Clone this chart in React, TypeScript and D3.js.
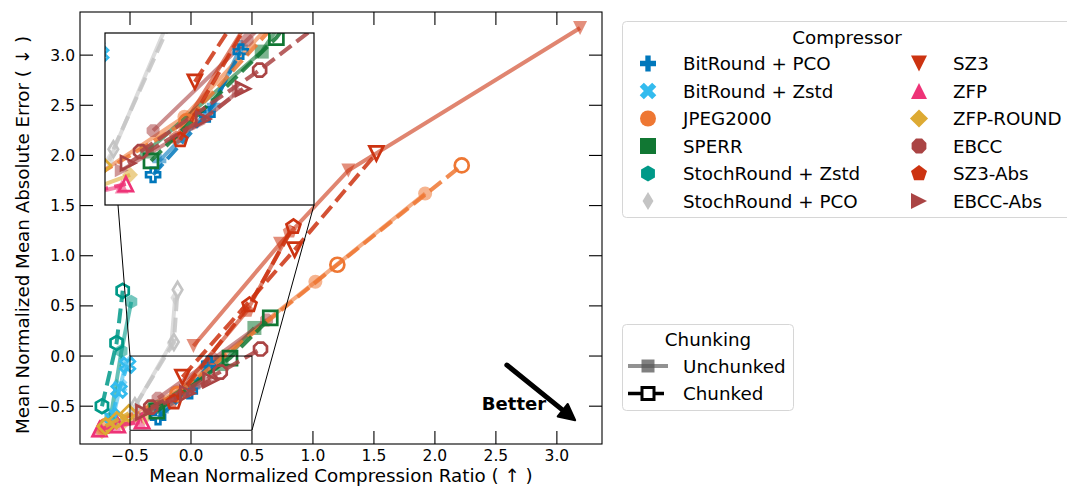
import { useEffect, useRef } from 'react'
import * as d3 from 'd3'

type Pt = [number, number]

// Compressor names, colours and matplotlib-style marker codes
const compressors = [
  'BitRound + PCO', 'BitRound + Zstd', 'JPEG2000', 'SPERR', 'StochRound + Zstd', 'StochRound + PCO',
  'SZ3', 'ZFP', 'ZFP-ROUND', 'EBCC', 'SZ3-Abs', 'EBCC-Abs',
]
const colors = [
  '#0077bb', '#33bbee', '#ee7733', '#117733', '#009988', '#c4c4c4',
  '#cc3311', '#ee3377', '#ddaa33', '#aa4444', '#cc3311', '#aa4444',
]
const markers = ['P', 'X', 'o', 's', 'h', 'd', 'v', '^', 'D', '8', 'p', '>']

// [mean normalized compression ratio, mean normalized MAE]
const bitroundPcoU: Pt[] = [[-0.24, -0.55], [0.02, -0.31], [0.15, -0.06]]
const bitroundPcoC: Pt[] = [[-0.27, -0.61], [-0.01, -0.35], [0.15, -0.08]]
const bitroundZstdU: Pt[] = [[-0.64, -0.62], [-0.58, -0.30], [-0.53, -0.06]]
const bitroundZstdC: Pt[] = [[-0.65, -0.60], [-0.59, -0.34], [-0.52, -0.09]]
const jpegU: Pt[] = [[-0.72, -0.72], [-0.12, -0.36], [1.02, 0.74], [1.92, 1.62]]
const jpegC: Pt[] = [[-0.70, -0.70], [-0.11, -0.38], [1.20, 0.91], [2.22, 1.90]]
const sperrU: Pt[] = [[-0.30, -0.51], [0.25, -0.08], [0.52, 0.28]]
const sperrC: Pt[] = [[-0.28, -0.55], [0.32, -0.02], [0.65, 0.38]]
const stochZstdU: Pt[] = [[-0.66, -0.62], [-0.57, 0.05], [-0.49, 0.54]]
const stochZstdC: Pt[] = [[-0.73, -0.50], [-0.61, 0.13], [-0.56, 0.65]]
const stochPcoU: Pt[] = [[-0.48, -0.55], [-0.16, 0.13], [-0.13, 0.58]]
const stochPcoC: Pt[] = [[-0.46, -0.50], [-0.14, 0.14], [-0.11, 0.66]]
const sz3U: Pt[] = [[0.02, 0.10], [0.73, 1.12], [1.29, 1.85], [3.19, 3.27]]
const sz3C: Pt[] = [[-0.07, -0.21], [0.85, 1.06], [1.52, 2.02]]
const zfpU: Pt[] = [[-0.76, -0.74], [-0.62, -0.70], [-0.42, -0.66]]
const zfpC: Pt[] = [[-0.75, -0.73], [-0.60, -0.69], [-0.40, -0.65]]
const zfpRoundU: Pt[] = [[-0.73, -0.75], [-0.56, -0.67], [-0.38, -0.61]]
const zfpRoundC: Pt[] = [[-0.70, -0.70], [-0.61, -0.64], [-0.51, -0.57]]
const ebccU: Pt[] = [[-0.27, -0.42], [0.18, -0.03], [0.62, 0.36]]
const ebccC: Pt[] = [[-0.33, -0.51], [0.24, -0.16], [0.57, 0.07]]
const sz3AbsU: Pt[] = [[-0.16, -0.45], [0.46, 0.45], [0.81, 1.24]]
const sz3AbsC: Pt[] = [[-0.14, -0.46], [0.48, 0.51], [0.84, 1.29]]
const ebccAbsU: Pt[] = [[-0.42, -0.59], [-0.05, -0.39], [0.14, -0.25]]
const ebccAbsC: Pt[] = [[-0.39, -0.56], [-0.03, -0.37], [0.16, -0.24]]

const unchunked = [bitroundPcoU, bitroundZstdU, jpegU, sperrU, stochZstdU, stochPcoU, sz3U, zfpU, zfpRoundU, ebccU, sz3AbsU, ebccAbsU]
const chunked = [bitroundPcoC, bitroundZstdC, jpegC, sperrC, stochZstdC, stochPcoC, sz3C, zfpC, zfpRoundC, ebccC, sz3AbsC, ebccAbsC]

const xTicks = [-0.5, 0, 0.5, 1, 1.5, 2, 2.5, 3]
const yTicks = [-0.5, 0, 0.5, 1, 1.5, 2, 2.5, 3]
const xDomain: Pt = [-0.91, 3.37]
const yDomain: Pt = [-0.877, 3.43]
const insetXDomain: Pt = [-0.5, 0.5]
const insetYDomain: Pt = [-0.74, 0]
const chunkingLabels = ['Unchunked', 'Chunked']
const betterArrow: Pt[] = [[2.59, -0.09], [3.15, -0.64]]
const betterText: Pt = [2.385, -0.54]

const FONT = 'DejaVu Sans, sans-serif'
const fmt = (v: number) => d3.format('.1f')(v).replace('-', '\u2212')

function markerPath(m: string, ms: number): string {
  const h = ms / 2
  const poly = (pts: number[][]) => 'M' + pts.map(p => `${p[0].toFixed(2)},${p[1].toFixed(2)}`).join('L') + 'Z'
  const ngon = (n: number, r: number, rot = 0) =>
    d3.range(n).map(i => {
      const a = rot + (i * 2 * Math.PI) / n
      return [r * Math.sin(a), -r * Math.cos(a)]
    })
  const a = h / 3
  const plus = [[-a, -h], [a, -h], [a, -a], [h, -a], [h, a], [a, a], [a, h], [-a, h], [-a, a], [-h, a], [-h, -a], [-a, -a]]
  const d = h * Math.SQRT2
  switch (m) {
    case 'o': return `M${h},0A${h},${h} 0 1,1 ${-h},0A${h},${h} 0 1,1 ${h},0Z`
    case 's': return poly([[-h, -h], [h, -h], [h, h], [-h, h]])
    case 'D': return poly([[0, -d * 0.8], [d * 0.8, 0], [0, d * 0.8], [-d * 0.8, 0]])
    case 'd': return poly([[0, -d * 0.8], [0.6 * d * 0.8, 0], [0, d * 0.8], [-0.6 * d * 0.8, 0]])
    case 'v': return poly([[-h, -h], [h, -h], [0, h]])
    case '^': return poly([[0, -h], [h, h], [-h, h]])
    case '>': return poly([[-h, -h], [h, 0], [-h, h]])
    case 'h': return poly(ngon(6, h))
    case 'p': return poly(ngon(5, h * 1.05))
    case '8': return poly(ngon(8, h, Math.PI / 8))
    case 'P': return poly(plus)
    case 'X': {
      const c = Math.SQRT1_2
      return poly(plus.map(p => [(p[0] - p[1]) * c * 1.1, (p[0] + p[1]) * c * 1.1]))
    }
    default: return ''
  }
}

export default function App() {
  const svgRef = useRef<SVGSVGElement>(null)
  const width = 1067
  const height = 488

  useEffect(() => {
    if (!svgRef.current) return
    const svg = d3.select(svgRef.current)
    svg.selectAll('*').remove()

    const ax = { left: 80, right: 602, top: 12, bottom: 444 }
    const x = d3.scaleLinear().domain(xDomain).range([ax.left, ax.right])
    const y = d3.scaleLinear().domain(yDomain).range([ax.bottom, ax.top])

    const inset = { left: 105, right: 314, top: 33, bottom: 205 }
    const ix = d3.scaleLinear().domain(insetXDomain).range([inset.left, inset.right])
    const iy = d3.scaleLinear().domain(insetYDomain).range([inset.bottom, inset.top])

    const defs = svg.append('defs')
    defs.append('clipPath').attr('id', 'main-clip').append('rect')
      .attr('x', ax.left).attr('y', ax.top).attr('width', ax.right - ax.left).attr('height', ax.bottom - ax.top)
    defs.append('clipPath').attr('id', 'inset-clip').append('rect')
      .attr('x', inset.left).attr('y', inset.top).attr('width', inset.right - inset.left).attr('height', inset.bottom - inset.top)

    svg.append('rect').attr('width', width).attr('height', height).attr('fill', 'white')

    // Draws every compressor, unchunked first, then chunked on top
    const drawSeries = (g: d3.Selection<SVGGElement, unknown, null, undefined>, xs: d3.ScaleLinear<number, number>, ys: d3.ScaleLinear<number, number>) => {
      const line = d3.line<Pt>().x(d => xs(d[0])).y(d => ys(d[1]))
      compressors.forEach((_, i) => {
        g.append('path')
          .datum(unchunked[i])
          .attr('d', line)
          .attr('fill', 'none')
          .attr('stroke', colors[i])
          .attr('stroke-width', 4)
          .attr('stroke-opacity', 0.6)
        g.append('g').selectAll('path')
          .data(unchunked[i])
          .join('path')
          .attr('transform', d => `translate(${xs(d[0])},${ys(d[1])})`)
          .attr('d', markerPath(markers[i], 14))
          .attr('fill', colors[i])
          .attr('fill-opacity', 0.55)
      })
      compressors.forEach((_, i) => {
        g.append('path')
          .datum(chunked[i])
          .attr('d', line)
          .attr('fill', 'none')
          .attr('stroke', colors[i])
          .attr('stroke-width', 4)
          .attr('stroke-opacity', 0.85)
          .attr('stroke-dasharray', '14.8,6.4')
        g.append('g').selectAll('path')
          .data(chunked[i])
          .join('path')
          .attr('transform', d => `translate(${xs(d[0])},${ys(d[1])})`)
          .attr('d', markerPath(markers[i], 14))
          .attr('fill', 'none')
          .attr('stroke', colors[i])
          .attr('stroke-width', 2.7)
          .attr('stroke-linejoin', 'miter')
      })
    }

    // Main axes content
    const main = svg.append('g').attr('clip-path', 'url(#main-clip)')
    drawSeries(main, x, y)

    // Zoom rectangle and connectors
    const box = { x0: x(insetXDomain[0]), x1: x(insetXDomain[1]), y0: y(insetYDomain[1]), y1: y(insetYDomain[0]) }
    svg.append('rect')
      .attr('x', box.x0).attr('y', box.y0)
      .attr('width', box.x1 - box.x0).attr('height', box.y1 - box.y0)
      .attr('fill', 'none').attr('stroke', '#000').attr('stroke-width', 1)
    svg.append('line')
      .attr('x1', inset.left + 13).attr('y1', inset.bottom)
      .attr('x2', box.x0).attr('y2', box.y0)
      .attr('stroke', '#000').attr('stroke-width', 1)
    svg.append('line')
      .attr('x1', inset.right).attr('y1', inset.bottom)
      .attr('x2', box.x1).attr('y2', box.y1)
      .attr('stroke', '#000').attr('stroke-width', 1)

    // Inset axes
    svg.append('rect')
      .attr('x', inset.left).attr('y', inset.top)
      .attr('width', inset.right - inset.left).attr('height', inset.bottom - inset.top)
      .attr('fill', 'white')
    const ins = svg.append('g').attr('clip-path', 'url(#inset-clip)')
    drawSeries(ins, ix, iy)
    svg.append('rect')
      .attr('x', inset.left).attr('y', inset.top)
      .attr('width', inset.right - inset.left).attr('height', inset.bottom - inset.top)
      .attr('fill', 'none').attr('stroke', '#000').attr('stroke-width', 1.2)

    // Better annotation
    const [a0, a1] = betterArrow.map(p => [x(p[0]), y(p[1])])
    const ang = Math.atan2(a1[1] - a0[1], a1[0] - a0[0])
    const headLen = 16
    const headW = 8
    const base = [a1[0] - headLen * Math.cos(ang), a1[1] - headLen * Math.sin(ang)]
    svg.append('line')
      .attr('x1', a0[0]).attr('y1', a0[1])
      .attr('x2', base[0]).attr('y2', base[1])
      .attr('stroke', '#000').attr('stroke-width', 5).attr('stroke-linecap', 'round')
    svg.append('path')
      .attr('d', `M${a1[0]},${a1[1]}L${base[0] - headW * Math.sin(ang)},${base[1] + headW * Math.cos(ang)}L${base[0] + headW * Math.sin(ang)},${base[1] - headW * Math.cos(ang)}Z`)
      .attr('fill', '#000').attr('stroke', '#000').attr('stroke-width', 2).attr('stroke-linejoin', 'round')
    svg.append('text')
      .attr('x', x(betterText[0])).attr('y', y(betterText[1]))
      .attr('font-family', FONT).attr('font-size', 18).attr('font-weight', 'bold')
      .text('Better')

    // Spines and ticks (inward on all sides)
    svg.append('rect')
      .attr('x', ax.left).attr('y', ax.top)
      .attr('width', ax.right - ax.left).attr('height', ax.bottom - ax.top)
      .attr('fill', 'none').attr('stroke', '#000').attr('stroke-width', 1.1)
    const tickLen = 13
    const ticks = svg.append('g').attr('stroke', '#000').attr('stroke-width', 1.1)
    xTicks.forEach(t => {
      ticks.append('line').attr('x1', x(t)).attr('x2', x(t)).attr('y1', ax.bottom).attr('y2', ax.bottom - tickLen)
      ticks.append('line').attr('x1', x(t)).attr('x2', x(t)).attr('y1', ax.top).attr('y2', ax.top + tickLen)
    })
    yTicks.forEach(t => {
      ticks.append('line').attr('y1', y(t)).attr('y2', y(t)).attr('x1', ax.left).attr('x2', ax.left + tickLen)
      ticks.append('line').attr('y1', y(t)).attr('y2', y(t)).attr('x1', ax.right).attr('x2', ax.right - tickLen)
    })
    const labels = svg.append('g').attr('font-family', FONT).attr('font-size', 15.5).attr('fill', '#000')
    xTicks.forEach(t => {
      labels.append('text').attr('x', x(t)).attr('y', 461).attr('text-anchor', 'middle').text(fmt(t))
    })
    yTicks.forEach(t => {
      labels.append('text').attr('x', 75).attr('y', y(t) + 5.5).attr('text-anchor', 'end').text(fmt(t))
    })

    svg.append('text')
      .attr('x', (ax.left + ax.right) / 2).attr('y', 482)
      .attr('text-anchor', 'middle')
      .attr('font-family', FONT).attr('font-size', 18.3)
      .text('Mean Normalized Compression Ratio ( \u2191 )')
    svg.append('text')
      .attr('transform', `translate(29,235) rotate(-90)`)
      .attr('text-anchor', 'middle')
      .attr('font-family', FONT).attr('font-size', 18.3)
      .text('Mean Normalized Mean Absolute Error ( \u2193 )')

    // Compressor legend
    const leg = svg.append('g').attr('font-family', FONT).attr('font-size', 18.3)
    leg.append('rect')
      .attr('x', 622.5).attr('y', 21.5).attr('width', 450).attr('height', 196).attr('rx', 4)
      .attr('fill', 'white').attr('stroke', '#d6d6d6')
    leg.append('text').attr('x', 847).attr('y', 43.5).attr('text-anchor', 'middle').text('Compressor')
    compressors.forEach((name, i) => {
      const col = Math.floor(i / 6)
      const row = i % 6
      const cy = 63.5 + row * 27.5
      const mx = col === 0 ? 648 : 919
      const tx = col === 0 ? 683 : 953
      leg.append('path')
        .attr('transform', `translate(${mx},${cy})`)
        .attr('d', markerPath(markers[i], 16))
        .attr('fill', colors[i])
      leg.append('text').attr('x', tx).attr('y', cy + 6.5).text(name)
    })

    // Chunking legend
    const leg2 = svg.append('g').attr('font-family', FONT).attr('font-size', 18.3)
    leg2.append('rect')
      .attr('x', 622.5).attr('y', 324.5).attr('width', 171).attr('height', 86).attr('rx', 4)
      .attr('fill', 'white').attr('stroke', '#d6d6d6')
    leg2.append('text').attr('x', 708).attr('y', 345.5).attr('text-anchor', 'middle').text('Chunking')
    chunkingLabels.forEach((name, i) => {
      const cy = 366 + i * 27.5
      if (i === 0) {
        leg2.append('line').attr('x1', 628).attr('x2', 668).attr('y1', cy).attr('y2', cy)
          .attr('stroke', '#777').attr('stroke-width', 4).attr('stroke-opacity', 0.8)
        leg2.append('path').attr('transform', `translate(648,${cy})`).attr('d', markerPath('s', 13))
          .attr('fill', '#555').attr('fill-opacity', 0.75)
      } else {
        leg2.append('line').attr('x1', 628).attr('x2', 668).attr('y1', cy).attr('y2', cy)
          .attr('stroke', '#000').attr('stroke-width', 3.5).attr('stroke-dasharray', '14.8,6.4')
        leg2.append('path').attr('transform', `translate(648,${cy})`).attr('d', markerPath('s', 12))
          .attr('fill', 'white').attr('stroke', '#000').attr('stroke-width', 3)
      }
      leg2.append('text').attr('x', 683).attr('y', cy + 6.5).text(name)
    })
  }, [])

  return (
    <div style={{ position: 'absolute', left: 0, top: 0 }}>
      <svg ref={svgRef} width={width} height={height} />
    </div>
  )
}
